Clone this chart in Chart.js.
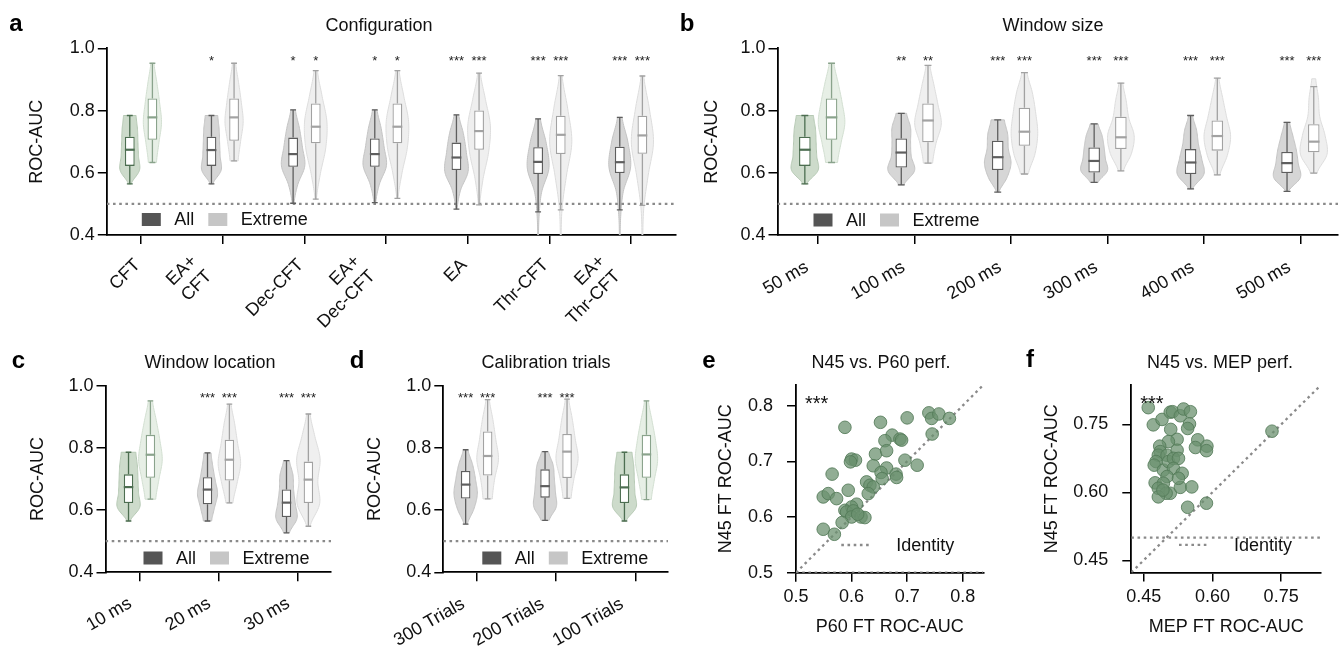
<!DOCTYPE html>
<html>
<head>
<meta charset="utf-8">
<title>ROC-AUC by configuration</title>
<script src="https://cdn.jsdelivr.net/npm/chart.js@4.4.1/dist/chart.umd.min.js"></script>
<style>
  html, body { margin: 0; padding: 0; background: #fff; }
  #fig { position: relative; width: 1341px; height: 647px; overflow: hidden; }
  #fig canvas { position: absolute; }
</style>
</head>
<body>
<div id="fig"></div>
<script>
// ---------- values ----------
const rocTicks = [0.4, 0.6, 0.8, 1.0];
const chanceLevel = 0.5;

// box stats are [low whisker, q1, median, q3, high whisker]
// violin density knots are spread evenly over the violin range
const configLabels = ['CFT', ['EA+', 'CFT'], 'Dec-CFT', ['EA+', 'Dec-CFT'], 'EA', 'Thr-CFT', ['EA+', 'Thr-CFT']];
const configAll = [
  [0.564, 0.622, 0.674, 0.716, 0.784], [0.564, 0.622, 0.673, 0.716, 0.784],
  [0.502, 0.619, 0.660, 0.713, 0.802], [0.504, 0.619, 0.660, 0.710, 0.802],
  [0.483, 0.609, 0.649, 0.697, 0.786], [0.474, 0.596, 0.635, 0.682, 0.773],
  [0.481, 0.599, 0.634, 0.684, 0.778]];
const configExtreme = [
  [0.633, 0.706, 0.778, 0.839, 0.952], [0.638, 0.703, 0.778, 0.839, 0.952],
  [0.515, 0.695, 0.748, 0.823, 0.928], [0.518, 0.695, 0.748, 0.823, 0.928],
  [0.497, 0.674, 0.734, 0.800, 0.920], [0.481, 0.660, 0.722, 0.783, 0.912],
  [0.495, 0.661, 0.720, 0.783, 0.911]];
const configAllRange = [[0.564, 0.784], [0.564, 0.784], [0.502, 0.802], [0.504, 0.802], [0.483, 0.786], [0.38, 0.773], [0.38, 0.778]];
const configExtremeRange = [[0.633, 0.952], [0.638, 0.952], [0.515, 0.928], [0.518, 0.928], [0.497, 0.920], [0.38, 0.912], [0.38, 0.911]];
const configAllDensity = [
  [0.12, 0.83, 0.75, 0.7, 0.66, 0.54], [0.12, 0.83, 0.75, 0.7, 0.66, 0.54],
  [0.08, 0.4, 1.0, 0.8, 0.55, 0.2], [0.08, 0.4, 1.0, 0.8, 0.55, 0.2],
  [0.06, 0.35, 1.0, 0.85, 0.6, 0.2], [0.03, 0.08, 0.3, 0.93, 0.7, 0.2],
  [0.03, 0.08, 0.3, 0.93, 0.7, 0.2]];
const configExtremeDensity = [
  [0.35, 0.56, 0.78, 0.62, 0.39, 0.14], [0.35, 0.56, 0.78, 0.62, 0.39, 0.14],
  [0.06, 0.4, 0.86, 0.96, 0.55, 0.15], [0.06, 0.4, 0.86, 0.96, 0.55, 0.15],
  [0.06, 0.35, 0.82, 0.97, 0.55, 0.12], [0.03, 0.12, 0.5, 0.95, 0.6, 0.12],
  [0.03, 0.12, 0.5, 0.95, 0.6, 0.12]];
const configAllSig = ['', '*', '*', '*', '***', '***', '***'];
const configExtremeSig = ['', '', '*', '*', '***', '***', '***'];
const configBaseline = 0;

const windowLabels = ['50 ms', '100 ms', '200 ms', '300 ms', '400 ms', '500 ms'];
const windowAll = [
  [0.564, 0.622, 0.674, 0.716, 0.784], [0.561, 0.617, 0.665, 0.710, 0.791],
  [0.538, 0.609, 0.650, 0.703, 0.770], [0.569, 0.601, 0.638, 0.681, 0.757],
  [0.548, 0.596, 0.633, 0.676, 0.784], [0.540, 0.599, 0.631, 0.667, 0.762]];
const windowExtreme = [
  [0.633, 0.706, 0.778, 0.839, 0.952], [0.631, 0.698, 0.768, 0.823, 0.945],
  [0.596, 0.687, 0.732, 0.809, 0.922], [0.606, 0.676, 0.714, 0.780, 0.888],
  [0.593, 0.671, 0.718, 0.768, 0.904], [0.599, 0.666, 0.700, 0.756, 0.877]];
const windowAllRange = [[0.564, 0.784], [0.561, 0.791], [0.538, 0.770], [0.569, 0.757], [0.548, 0.784], [0.540, 0.762]];
const windowExtremeRange = [[0.633, 0.952], [0.631, 0.945], [0.596, 0.922], [0.606, 0.888], [0.593, 0.904], [0.599, 0.902]];
const windowAllDensity = [
  [0.15, 1.0, 0.9, 0.85, 0.8, 0.65], [0.2, 1.0, 0.75, 0.7, 0.7, 0.4],
  [0.1, 0.7, 1.0, 0.8, 0.75, 0.5], [0.3, 1.0, 0.85, 0.75, 0.6, 0.3],
  [0.15, 1.0, 0.85, 0.6, 0.45, 0.15], [0.1, 1.0, 0.85, 0.7, 0.45, 0.2]];
const windowExtremeDensity = [
  [0.45, 0.72, 1.0, 0.8, 0.5, 0.18], [0.35, 0.6, 1.0, 0.75, 0.45, 0.15],
  [0.3, 0.8, 1.0, 0.85, 0.6, 0.2], [0.2, 0.8, 1.0, 0.6, 0.4, 0.15],
  [0.2, 0.75, 1.0, 0.7, 0.4, 0.12], [0.25, 1.0, 0.85, 0.45, 0.35, 0.15]];
const windowAllSig = ['', '**', '***', '***', '***', '***'];
const windowExtremeSig = ['', '**', '***', '***', '***', '***'];
const windowBaseline = 0;

const locationLabels = ['10 ms', '20 ms', '30 ms'];
const locationAll = [[0.565, 0.623, 0.674, 0.715, 0.786], [0.565, 0.619, 0.666, 0.706, 0.784], [0.527, 0.578, 0.624, 0.666, 0.759]];
const locationExtreme = [[0.635, 0.704, 0.778, 0.842, 0.951], [0.623, 0.695, 0.762, 0.826, 0.941], [0.548, 0.623, 0.698, 0.756, 0.909]];
const locationAllRange = [[0.565, 0.786], [0.565, 0.784], [0.527, 0.759]];
const locationExtremeRange = [[0.635, 0.951], [0.623, 0.941], [0.548, 0.909]];
const locationAllDensity = [[0.14, 0.95, 0.85, 0.8, 0.75, 0.62], [0.35, 0.6, 0.85, 0.65, 0.45, 0.3], [0.25, 0.89, 0.75, 0.6, 0.55, 0.25]];
const locationExtremeDensity = [[0.45, 0.72, 1.0, 0.8, 0.5, 0.18], [0.3, 0.65, 0.95, 0.7, 0.45, 0.15], [0.15, 0.95, 0.8, 0.99, 0.55, 0.15]];
const locationAllSig = ['', '***', '***'];
const locationExtremeSig = ['', '***', '***'];
const locationBaseline = 0;

const trialsLabels = ['300 Trials', '200 Trials', '100 Trials'];
const trialsAll = [[0.555, 0.637, 0.682, 0.726, 0.794], [0.567, 0.640, 0.677, 0.731, 0.788], [0.565, 0.623, 0.673, 0.715, 0.786]];
const trialsExtreme = [[0.636, 0.711, 0.774, 0.853, 0.955], [0.638, 0.703, 0.788, 0.845, 0.957], [0.634, 0.704, 0.779, 0.842, 0.951]];
const trialsAllRange = [[0.555, 0.794], [0.567, 0.788], [0.565, 0.786]];
const trialsExtremeRange = [[0.636, 0.955], [0.638, 0.957], [0.634, 0.951]];
const trialsAllDensity = [[0.15, 0.7, 1.0, 0.85, 0.6, 0.2], [0.35, 0.97, 0.9, 0.8, 0.7, 0.3], [0.15, 1.0, 0.9, 0.85, 0.8, 0.65]];
const trialsExtremeDensity = [[0.4, 0.6, 0.93, 0.7, 0.45, 0.15], [0.35, 0.6, 0.95, 0.7, 0.45, 0.15], [0.42, 0.68, 0.96, 0.78, 0.48, 0.17]];
const trialsAllSig = ['***', '***', ''];
const trialsExtremeSig = ['***', '***', ''];
const trialsBaseline = 2;

// per-subject ROC-AUC, N45 (y) against P60 / MEP (x)
const p60X = [0.588, 0.652, 0.700, 0.739, 0.744, 0.757, 0.776, 0.745, 0.673, 0.660, 0.687, 0.690, 0.643, 0.663, 0.600, 0.607,
  0.598, 0.696, 0.718, 0.639, 0.663, 0.653, 0.680, 0.681, 0.655, 0.565, 0.627, 0.633, 0.639, 0.630, 0.594, 0.549, 0.558,
  0.573, 0.609, 0.600, 0.588, 0.591, 0.603, 0.600, 0.617, 0.624, 0.583, 0.549, 0.569, 0.611];
const p60Y = [0.761, 0.770, 0.778, 0.787, 0.777, 0.785, 0.777, 0.749, 0.747, 0.737, 0.740, 0.738, 0.713, 0.719, 0.704, 0.702,
  0.699, 0.702, 0.693, 0.692, 0.688, 0.680, 0.677, 0.671, 0.669, 0.677, 0.663, 0.657, 0.654, 0.642, 0.648, 0.636, 0.642,
  0.633, 0.623, 0.618, 0.612, 0.609, 0.611, 0.600, 0.600, 0.599, 0.590, 0.578, 0.569, 0.605];
const p60Ticks = [0.5, 0.6, 0.7, 0.8];
const p60Range = [0.5, 0.837];

const mepX = [0.460, 0.471, 0.490, 0.508, 0.513, 0.530, 0.537, 0.552, 0.509, 0.550, 0.546, 0.523, 0.504, 0.485, 0.486, 0.482,
  0.501, 0.523, 0.568, 0.563, 0.588, 0.587, 0.477, 0.473, 0.493, 0.504, 0.515, 0.526, 0.515, 0.534, 0.501, 0.475, 0.493,
  0.482, 0.508, 0.499, 0.482, 0.530, 0.555, 0.546, 0.587, 0.492, 0.526, 0.730];
const mepY = [0.787, 0.749, 0.761, 0.777, 0.778, 0.769, 0.784, 0.778, 0.739, 0.751, 0.741, 0.717, 0.712, 0.702, 0.690, 0.682,
  0.682, 0.693, 0.716, 0.699, 0.702, 0.692, 0.668, 0.660, 0.649, 0.668, 0.675, 0.675, 0.653, 0.642, 0.635, 0.621, 0.620,
  0.609, 0.598, 0.598, 0.590, 0.611, 0.612, 0.567, 0.576, 0.605, 0.631, 0.735];
const mepTicks = [0.45, 0.60, 0.75];
const mepRange = [0.423, 0.837];

// ---------- styling ----------
const SANS = "'Liberation Sans', Arial, Helvetica, sans-serif";
Chart.defaults.font.family = SANS;
Chart.defaults.font.size = 18;
Chart.defaults.color = '#111';

const PALETTE = {
  green: { allFill: '#cddbcb', allEdge: '#b6c9b4', allBox: '#4d6e51',
           extFill: '#e7efe6', extEdge: '#d2dfd1', extBox: '#8aa38c' },
  gray:  { allFill: '#d6d6d6', allEdge: '#c4c4c4', allBox: '#5e5e5e',
           extFill: '#efefef', extEdge: '#dddddd', extBox: '#a2a2a2' }
};
const DOT = '#8a8a8a';
const DOT_DASH = [2.6, 3.6];

function catmull(d, t) {
  const u = t * (d.length - 1);
  const k = Math.min(Math.floor(u), d.length - 2);
  const f = u - k;
  const p0 = d[Math.max(k - 1, 0)], p1 = d[k], p2 = d[k + 1], p3 = d[Math.min(k + 2, d.length - 1)];
  return 0.5 * (2 * p1 + (-p0 + p2) * f + (2 * p0 - 5 * p1 + 4 * p2 - p3) * f * f + (-p0 + 3 * p1 - 3 * p2 + p3) * f * f * f);
}

const figurePlugin = {
  id: 'figure',
  beforeDatasetsDraw(chart, args, opts) {
    if (!opts.maxHalf) return;
    const { ctx, chartArea: a, scales: { x, y } } = chart;
    const unit = x.getPixelForValue(1) - x.getPixelForValue(0);
    ctx.save();
    ctx.beginPath();
    ctx.rect(a.left, a.top, a.right - a.left, a.bottom - a.top);
    ctx.clip();
    chart.data.datasets.forEach((ds, di) => {
      if (!ds.violinRange) return;
      chart.getDatasetMeta(di).data.forEach((bar, i) => {
        const [lo, hi] = ds.violinRange[i];
        const dens = ds.violinDensity[i];
        const steps = 60, pts = [];
        for (let k = 0; k <= steps; k++) {
          const t = k / steps;
          pts.push([Math.max(0, catmull(dens, t)) * opts.maxHalf * unit, y.getPixelForValue(lo + (hi - lo) * t)]);
        }
        ctx.beginPath();
        pts.forEach(([w, py], k) => k ? ctx.lineTo(bar.x + w, py) : ctx.moveTo(bar.x + w, py));
        for (let k = pts.length - 1; k >= 0; k--) ctx.lineTo(bar.x - pts[k][0], pts[k][1]);
        ctx.closePath();
        ctx.fillStyle = ds.violinFill[i];
        ctx.fill();
        ctx.strokeStyle = ds.violinEdge[i];
        ctx.lineWidth = 1;
        ctx.stroke();
      });
    });
    ctx.restore();
  },
  afterDatasetsDraw(chart, args, opts) {
    const { ctx, scales: { y } } = chart;
    const py = v => y.getPixelForValue(v);
    chart.data.datasets.forEach((ds, di) => {
      if (!ds.stats) return;
      chart.getDatasetMeta(di).data.forEach((bar, i) => {
        const [lo, q1, med, q3, hi] = ds.stats[i];
        const cap = bar.width * 0.3;
        ctx.save();
        ctx.strokeStyle = ds.borderColor[i];
        ctx.lineWidth = 1.3;
        ctx.beginPath();
        ctx.moveTo(bar.x, py(q3)); ctx.lineTo(bar.x, py(hi));
        ctx.moveTo(bar.x - cap, py(hi)); ctx.lineTo(bar.x + cap, py(hi));
        ctx.moveTo(bar.x, py(q1)); ctx.lineTo(bar.x, py(lo));
        ctx.moveTo(bar.x - cap, py(lo)); ctx.lineTo(bar.x + cap, py(lo));
        ctx.stroke();
        ctx.lineWidth = 2.2;
        ctx.beginPath();
        ctx.moveTo(bar.x - bar.width / 2, py(med)); ctx.lineTo(bar.x + bar.width / 2, py(med));
        ctx.stroke();
        if (ds.sig && ds.sig[i]) {
          ctx.fillStyle = '#222';
          ctx.font = '13px ' + SANS;
          ctx.textAlign = 'center';
          ctx.textBaseline = 'alphabetic';
          ctx.fillText(ds.sig[i], bar.x, py(opts.sigAt) + 7.5);
        }
        ctx.restore();
      });
    });
  },
  afterDraw(chart, args, opts) {
    const { ctx, chartArea: a, scales: { x } } = chart;
    ctx.save();
    ctx.fillStyle = '#111';
    if (opts.letter) {
      ctx.font = 'bold 24px ' + SANS;
      ctx.fillStyle = '#000';
      ctx.textAlign = 'center';
      ctx.textBaseline = 'alphabetic';
      ctx.fillText(opts.letter[0], opts.letter[1], opts.letter[2]);
    }
    if (opts.heading) {
      ctx.font = '18px ' + SANS;
      ctx.fillStyle = '#111';
      ctx.textAlign = 'center';
      ctx.textBaseline = 'middle';
      ctx.fillText(opts.heading[0], opts.heading[1], opts.heading[2]);
    }
    if (opts.labels) {
      // rotated category labels: the rotated block's box has its top-right corner under the tick
      const { text, rot, dx, dy, multiShift } = opts.labels;
      const th = rot * Math.PI / 180, c = Math.cos(th), s = Math.sin(th), lh = 21.6;
      ctx.font = '18px ' + SANS;
      ctx.fillStyle = '#111';
      ctx.textAlign = 'right';
      ctx.textBaseline = 'middle';
      text.forEach((lab, i) => {
        const lines = [].concat(lab);
        const W = Math.max(...lines.map(t => ctx.measureText(t).width));
        const H = lines.length * lh;
        const more = lines.length > 1 ? multiShift : [0, 0];
        const tx = x.getPixelForValue(i) + dx + more[0], ty = a.bottom + dy + more[1];
        ctx.save();
        ctx.translate(tx - (W * c + H * s), ty + W * s);
        ctx.rotate(-th);
        lines.forEach((t, k) => ctx.fillText(t, W, lh * (k + 0.5)));
        ctx.restore();
      });
    }
    if (opts.boxLegend) {
      let px = a.left + opts.boxLegend[0];
      const cy = a.bottom - opts.boxLegend[1];
      ctx.font = '18px ' + SANS;
      ctx.textAlign = 'left';
      ctx.textBaseline = 'middle';
      chart.data.datasets.forEach(ds => {
        if (!ds.legendColor) return;
        ctx.fillStyle = ds.legendColor;
        ctx.fillRect(px, cy - 6.5, 19, 13);
        px += 19 + 13.5;
        ctx.fillStyle = '#111';
        ctx.fillText(ds.label, px, cy + 1);
        px += ctx.measureText(ds.label).width + 14;
      });
    }
    if (opts.lineLegend) {
      const cy = a.bottom - opts.lineLegend[1];
      const x0 = a.right - opts.lineLegend[0];
      chart.data.datasets.forEach(ds => {
        if (!ds.inLegend) return;
        ctx.strokeStyle = ds.borderColor;
        ctx.lineWidth = ds.borderWidth;
        ctx.setLineDash(ds.borderDash);
        ctx.beginPath(); ctx.moveTo(x0, cy); ctx.lineTo(x0 + 30, cy); ctx.stroke();
        ctx.setLineDash([]);
        ctx.font = '18px ' + SANS;
        ctx.fillStyle = '#111';
        ctx.textAlign = 'left';
        ctx.textBaseline = 'middle';
        ctx.fillText(ds.label, x0 + 55, cy + 1);
      });
    }
    if (opts.cornerSig) {
      ctx.font = '20px ' + SANS;
      ctx.fillStyle = '#111';
      ctx.textAlign = 'left';
      ctx.textBaseline = 'alphabetic';
      ctx.fillText(opts.cornerSig, a.left + 9, a.top + 24.5);
    }
    ctx.restore();
  }
};

function makeCanvas(box) {
  const c = document.createElement('canvas');
  c.width = box.w; c.height = box.h;
  c.style.left = box.x + 'px'; c.style.top = box.y + 'px';
  c.style.width = box.w + 'px'; c.style.height = box.h + 'px';
  document.getElementById('fig').appendChild(c);
  return c;
}

// place the chart area where the reference puts its axes
function frame(box, area) {
  return {
    padding: { left: 0, top: area.t - box.y, bottom: 0, right: box.w - (area.r - box.x) },
    yWidth: area.l - box.x,
    xHeight: box.y + box.h - area.b
  };
}

function axisBase(extra) {
  return Object.assign({
    grid: { drawOnChartArea: false, tickLength: 9, color: '#000', lineWidth: 1.5, offset: false },
    border: { color: '#000', width: 1.8 }
  }, extra);
}

function violinPanel(p) {
  const f = frame(p.box, p.area);
  const tone = (i, key) => PALETTE[i === p.baseline ? 'green' : 'gray'][key];
  const series = (label, stats, range, density, sig, kind, legendColor) => ({
    label,
    data: stats.map((s, i) => ({ x: i, y: [s[1], s[3]] })),
    backgroundColor: '#ffffff',
    borderColor: stats.map((_, i) => tone(i, kind + 'Box')),
    borderWidth: 1.3,
    borderSkipped: false,
    categoryPercentage: 0.554,
    barPercentage: 0.433,
    stats, violinRange: range, violinDensity: density, sig,
    violinFill: stats.map((_, i) => tone(i, kind + 'Fill')),
    violinEdge: stats.map((_, i) => tone(i, kind + 'Edge')),
    legendColor
  });
  new Chart(makeCanvas(p.box), {
    type: 'bar',
    data: {
      datasets: [
        series('All', p.all, p.allRange, p.allDensity, p.allSig, 'all', '#555555'),
        series('Extreme', p.extreme, p.extremeRange, p.extremeDensity, p.extremeSig, 'ext', '#c6c6c6'),
        { type: 'line', label: 'Chance', data: [{ x: p.xMin, y: chanceLevel }, { x: p.xMax, y: chanceLevel }],
          borderColor: DOT, borderWidth: 2.3, borderDash: DOT_DASH, pointRadius: 0, fill: false }
      ]
    },
    options: {
      responsive: false, animation: false, events: [],
      layout: { padding: f.padding },
      plugins: {
        legend: { display: false }, tooltip: { enabled: false },
        figure: { maxHalf: p.maxHalf, sigAt: 0.972, letter: p.letter, heading: p.heading, boxLegend: p.legend,
                  labels: { text: p.labels, rot: p.rot, dx: p.labelShift[0], dy: p.labelShift[1],
                            multiShift: [-10, -4] } }
      },
      scales: {
        x: axisBase({
          type: 'linear', min: p.xMin, max: p.xMax, offset: false,
          afterBuildTicks: s => { s.ticks = p.labels.map((_, i) => ({ value: i })); },
          afterFit: s => { s.height = f.xHeight; },
          ticks: { display: false }
        }),
        y: axisBase({
          min: 0.4, max: 1.0,
          afterBuildTicks: s => { s.ticks = rocTicks.map(v => ({ value: v })); },
          afterFit: s => { s.width = f.yWidth; },
          ticks: { callback: v => v.toFixed(1), padding: 3, color: '#111' },
          title: { display: true, text: 'ROC-AUC', padding: { top: p.yTitlePad, bottom: 0 }, color: '#111' }
        })
      }
    },
    plugins: [figurePlugin]
  });
}

function scatterPanel(p) {
  const f = frame(p.box, p.area);
  const [lo, hi] = p.range;
  const digits = p.digits;
  new Chart(makeCanvas(p.box), {
    type: 'scatter',
    data: {
      datasets: [
        { label: 'Subjects', data: p.xs.map((x, i) => ({ x, y: p.ys[i] })),
          backgroundColor: 'rgba(106,145,110,0.74)', borderColor: 'rgba(84,122,88,0.85)',
          borderWidth: 1, pointRadius: 6.3 },
        { label: 'Identity', data: [{ x: lo, y: lo }, { x: hi, y: hi }], showLine: true, inLegend: true,
          borderColor: DOT, borderWidth: 2.3, borderDash: DOT_DASH, pointRadius: 0 },
        { label: 'Chance', data: [{ x: lo, y: chanceLevel }, { x: hi, y: chanceLevel }], showLine: true,
          borderColor: DOT, borderWidth: 2.3, borderDash: DOT_DASH, pointRadius: 0 }
      ]
    },
    options: {
      responsive: false, animation: false, events: [],
      layout: { padding: f.padding },
      plugins: {
        legend: { display: false }, tooltip: { enabled: false },
        figure: { letter: p.letter, heading: p.heading, lineLegend: [142, 27.7], cornerSig: '***' }
      },
      scales: {
        x: axisBase({
          type: 'linear', min: lo, max: hi,
          afterBuildTicks: s => { s.ticks = p.ticks.map(v => ({ value: v })); },
          afterFit: s => { s.height = f.xHeight; },
          ticks: { callback: v => v.toFixed(digits), padding: 5, maxRotation: 0, minRotation: 0, color: '#111' },
          title: { display: true, text: p.xTitle, padding: { top: 0, bottom: 9 }, color: '#111' }
        }),
        y: axisBase({
          type: 'linear', min: lo, max: hi,
          afterBuildTicks: s => { s.ticks = p.ticks.map(v => ({ value: v })); },
          afterFit: s => { s.width = f.yWidth; },
          ticks: { callback: v => v.toFixed(digits), padding: 14, color: '#111' },
          title: { display: true, text: 'N45 FT ROC-AUC', padding: { top: p.yTitlePad, bottom: 0 }, color: '#111' }
        })
      }
    },
    plugins: [figurePlugin]
  });
}

violinPanel({
  box: { x: 0, y: 0, w: 690, h: 330 }, area: { l: 106.8, r: 676, t: 48.3, b: 235 },
  heading: ['Configuration', 379, 25.8], letter: ['a', 16, 31], yTitlePad: 26, xMin: -0.42, xMax: 6.55,
  rot: 45, labelShift: [4, 19.6],
  labels: configLabels, baseline: configBaseline, maxHalf: 0.143, legend: [35, 15.5],
  all: configAll, allRange: configAllRange, allDensity: configAllDensity, allSig: configAllSig,
  extreme: configExtreme, extremeRange: configExtremeRange, extremeDensity: configExtremeDensity, extremeSig: configExtremeSig
});
violinPanel({
  box: { x: 680, y: 0, w: 661, h: 330 }, area: { l: 777.5, r: 1338, t: 48.3, b: 235 },
  heading: ['Window size', 373, 25.8], letter: ['b', 7, 31], yTitlePad: 21, xMin: -0.422, xMax: 5.39,
  rot: 30, labelShift: [-5.7, 21.6],
  labels: windowLabels, baseline: windowBaseline, maxHalf: 0.138, legend: [36, 15],
  all: windowAll, allRange: windowAllRange, allDensity: windowAllDensity, allSig: windowAllSig,
  extreme: windowExtreme, extremeRange: windowExtremeRange, extremeDensity: windowExtremeDensity, extremeSig: windowExtremeSig
});
violinPanel({
  box: { x: 0, y: 330, w: 340, h: 317 }, area: { l: 105.5, r: 331, t: 385.7, b: 572.3 },
  heading: ['Window location', 210, 32.8], letter: ['c', 18.5, 38], yTitlePad: 27, xMin: -0.43, xMax: 2.425,
  rot: 30, labelShift: [-3.7, 20.5],
  labels: locationLabels, baseline: locationBaseline, maxHalf: 0.15, legend: [38, 14.3],
  all: locationAll, allRange: locationAllRange, allDensity: locationAllDensity, allSig: locationAllSig,
  extreme: locationExtreme, extremeRange: locationExtremeRange, extremeDensity: locationExtremeDensity, extremeSig: locationExtremeSig
});
violinPanel({
  box: { x: 340, y: 330, w: 340, h: 317 }, area: { l: 443.3, r: 668, t: 385.7, b: 572.3 },
  heading: ['Calibration trials', 206, 32.8], letter: ['d', 17, 38], yTitlePad: 24, xMin: -0.42, xMax: 2.41,
  rot: 30, labelShift: [-7.9, 21],
  labels: trialsLabels, baseline: trialsBaseline, maxHalf: 0.147, legend: [39, 14.3],
  all: trialsAll, allRange: trialsAllRange, allDensity: trialsAllDensity, allSig: trialsAllSig,
  extreme: trialsExtreme, extremeRange: trialsExtremeRange, extremeDensity: trialsExtremeDensity, extremeSig: trialsExtremeSig
});
scatterPanel({
  box: { x: 700, y: 330, w: 300, h: 317 }, area: { l: 796, r: 983.3, t: 385, b: 572.7 },
  heading: ['N45 vs. P60 perf.', 181, 32.8], letter: ['e', 9, 38], yTitlePad: 15, xTitle: 'P60 FT ROC-AUC',
  xs: p60X, ys: p60Y, ticks: p60Ticks, range: p60Range, digits: 1
});
scatterPanel({
  box: { x: 1010, y: 330, w: 331, h: 317 }, area: { l: 1131.3, r: 1321, t: 385, b: 572.5 },
  heading: ['N45 vs. MEP perf.', 210, 32.8], letter: ['f', 20, 37], yTitlePad: 31, xTitle: 'MEP FT ROC-AUC',
  xs: mepX, ys: mepY, ticks: mepTicks, range: mepRange, digits: 2
});
</script>
</body>
</html>
